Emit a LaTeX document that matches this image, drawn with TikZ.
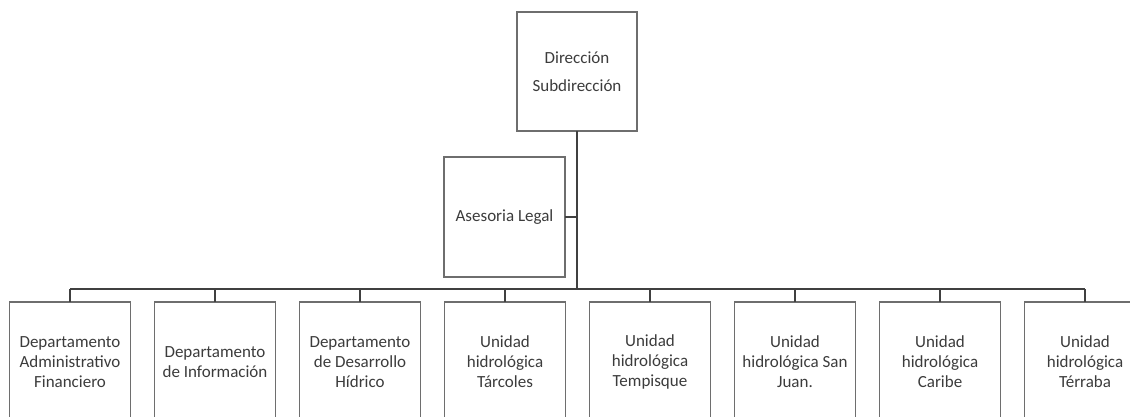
\documentclass[tikz,border=0pt]{standalone}
\usepackage{fontspec}
\setmainfont{Carlito}
\usetikzlibrary{positioning, calc}
\definecolor{boxgray}{HTML}{6E6E6E}
\definecolor{textgray}{HTML}{3C3C3C}
\tikzset{
  unit/.style={rectangle,draw=boxgray,line width=1.3pt,fill=white,text=textgray,outer sep=0pt,
    minimum width=121pt,minimum height=120pt,align=center,inner sep=2pt,
    font=\fontsize{17}{20}\selectfont},
  link/.style={draw=black!75,line width=1.5pt},
}
\begin{document}
\begin{tikzpicture}[x=1pt,y=1pt]
	    \useasboundingbox (0,0) rectangle (1130,-417);
	    \node[unit,minimum width=120pt,minimum height=119pt] (D) at (577,-71.5) {Dirección\\[8pt]Subdirección};
	    \node[unit] (L) at (504.5,-217) {Asesoria Legal};
	    \node[unit] (U1) at (70,-362) {Departamento\\Administrativo\\Financiero};
	    \node[unit,right=24pt of U1] (U2) {Departamento\\de Información};
	    \node[unit,right=24pt of U2] (U3) {Departamento\\de Desarrollo\\Hídrico};
	    \node[unit,right=24pt of U3] (U4) {Unidad\\hidrológica\\Tárcoles};
	    \node[unit,right=24pt of U4] (U5) {Unidad\\hidrológica\\Tempisque};
	    \node[unit,right=24pt of U5] (U6) {Unidad\\hidrológica San\\Juan.};
	    \node[unit,right=24pt of U6] (U7) {Unidad\\hidrológica\\Caribe};
	    \node[unit,right=24pt of U7] (U8) {Unidad\\hidrológica\\Térraba};
	    \coordinate (bus) at ($(D.south)+(0,-158)$);
	    \draw[link] (D.south) -- (bus);
	    \draw[link] (L.east) -- (L.east -| D.south);
	    \draw[link] (bus -| U1.north) -- (bus -| U8.north);
	    \foreach \u in {U1,U2,U3,U4,U5,U6,U7,U8}
	    	\draw[link] (bus -| \u.north) -- (\u.north);
	\end{tikzpicture}
\end{document}
